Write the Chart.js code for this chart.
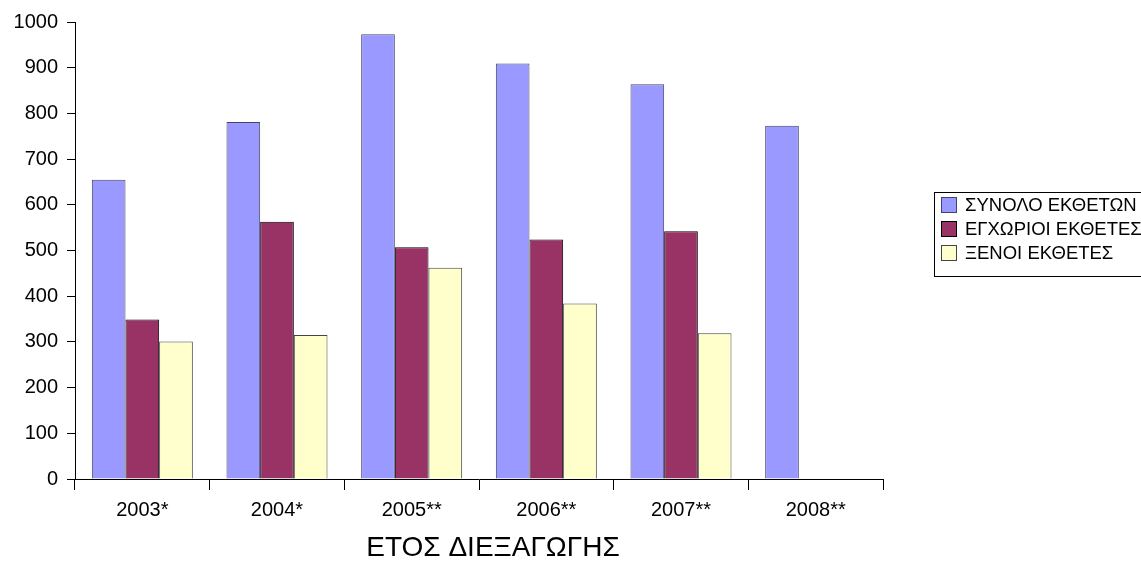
<!DOCTYPE html>
<html>
<head>
<meta charset="utf-8">
<script src="https://cdn.jsdelivr.net/npm/chart.js@4"></script>
<style>
  html, body { margin: 0; padding: 0; background: #fff; }
  #wrap { width: 1141px; height: 563px; }
</style>
</head>
<body>
<div id="wrap"><canvas id="chart" width="1141" height="563"></canvas></div>
<script>
// years of the exhibition
const years = ['2003*', '2004*', '2005**', '2006**', '2007**', '2008**'];

// exhibitors per year
const total = [655, 781, 973, 909, 864, 773];
const domestic = [349, 563, 507, 524, 542, 0];
const foreign = [301, 315, 462, 384, 319, 0];

const seriesNames = ['ΣΥΝΟΛΟ ΕΚΘΕΤΩΝ', 'ΕΓΧΩΡΙΟΙ ΕΚΘΕΤΕΣ', 'ΞΕΝΟΙ ΕΚΘΕΤΕΣ'];
const xTitle = 'ΕΤΟΣ ΔΙΕΞΑΓΩΓΗΣ';
const yTicks = [0, 100, 200, 300, 400, 500, 600, 700, 800, 900, 1000];

const fontFamily = '"Liberation Sans", Arial, sans-serif';

// boxed legend on the right, like the old excel one, plus the axis title
// (excel puts that title a bit right of the plot centre)
const boxLegend = {
  id: 'boxLegend',
  afterDraw(chart) {
    const c = chart.ctx;
    c.save();
    c.strokeStyle = '#000';
    c.lineWidth = 1;
    c.strokeRect(934.5, 192.5, 220, 84);
    c.font = '18.5px ' + fontFamily;
    c.textBaseline = 'middle';
    chart.data.datasets.forEach((ds, i) => {
      const cy = 205 + i * 24;
      c.fillStyle = ds.backgroundColor;
      c.fillRect(941, cy - 8, 15, 15);
      c.strokeStyle = ds.borderColor;
      c.strokeRect(941.5, cy - 7.5, 15, 15);
      c.fillStyle = '#000';
      c.fillText(ds.label, 965, cy + 1);
    });

    c.font = '28px ' + fontFamily;
    c.textAlign = 'center';
    c.fillText(xTitle, 493, 548);
    c.restore();
  }
};

const ctx = document.getElementById('chart').getContext('2d');
new Chart(ctx, {
  type: 'bar',
  data: {
    labels: years,
    datasets: [
      { label: seriesNames[0], data: total, backgroundColor: '#9999FF', borderColor: '#444466', borderWidth: 1 },
      { label: seriesNames[1], data: domestic, backgroundColor: '#993366', borderColor: '#000000', borderWidth: 1 },
      { label: seriesNames[2], data: foreign, backgroundColor: '#FFFFCC', borderColor: '#444444', borderWidth: 1 }
    ]
  },
  options: {
    responsive: false,
    animation: false,
    layout: { padding: { left: 0, top: 22, right: 258, bottom: 0 } },
    datasets: { bar: { categoryPercentage: 0.75, barPercentage: 1.0 } },
    plugins: {
      legend: { display: false },
      tooltip: { enabled: false }
    },
    scales: {
      x: {
        offset: true,
        grid: { offset: true, drawOnChartArea: false, tickLength: 11, color: '#000' },
        border: { display: true, color: '#000', width: 1 },
        ticks: { color: '#000', font: { family: fontFamily, size: 20 }, padding: 8 },
        afterFit(scale) { scale.height = 84; }
      },
      y: {
        min: 0,
        max: 1000,
        afterBuildTicks(scale) { scale.ticks = yTicks.map(v => ({ value: v })); },
        grid: { drawOnChartArea: false, tickLength: 8, color: '#000' },
        border: { display: true, color: '#000', width: 1 },
        ticks: {
          color: '#000',
          font: { family: fontFamily, size: 20 },
          padding: 9,
          callback: function (value) { return String(value); }
        },
        afterFit(scale) { scale.width = 75; }
      }
    }
  },
  plugins: [boxLegend]
});
</script>
</body>
</html>
